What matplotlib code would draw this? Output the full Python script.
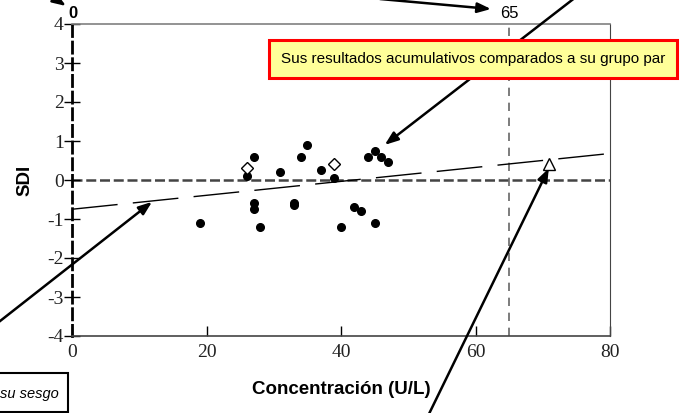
import matplotlib.pyplot as plt
from matplotlib.patches import Rectangle

plt.rcParams['axes.unicode_minus'] = False

# peer group results (filled circles)
conc = [19, 26, 27, 27, 27, 28, 31, 33, 33, 34, 35, 37, 39, 40, 42, 43, 44, 45, 45, 46, 47]
sdi = [-1.1, 0.1, 0.6, -0.6, -0.75, -1.2, 0.2, -0.6, -0.65, 0.6, 0.9, 0.25, 0.05, -1.2,
       -0.7, -0.8, 0.6, 0.75, -1.1, 0.6, 0.45]
# open diamonds
diam_x = [26, 39]
diam_y = [0.3, 0.4]
# open triangle
tri_x = [71]
tri_y = [0.4]
# regression line end points
reg_x = [0, 80]
reg_y = [-0.75, 0.68]
decision = 65

W, H = 686, 413
fig = plt.figure(figsize=(W / 100, H / 100), dpi=100)
ax = fig.add_axes([72 / W, 1 - 336 / H, 538 / W, 312 / H])

serif = 'Liberation Serif'
sans = 'Liberation Sans'

ax.plot(reg_x, reg_y, color='black', lw=1, dashes=(33, 11), zorder=2)
ax.axhline(0, color='#444444', lw=1.8, dashes=(4, 1.5), zorder=1)
ax.axvline(decision, color='#666666', lw=1.2, dashes=(5, 4), zorder=1)
ax.plot(conc, sdi, 'o', color='black', ms=5.5, zorder=3)
ax.plot(diam_x, diam_y, 'D', mfc='white', mec='black', ms=6, mew=1, zorder=3)
ax.plot(tri_x, tri_y, '^', mfc='white', mec='black', ms=9, mew=1, zorder=3)

ax.set_xlim(0, 80)
ax.set_ylim(-4, 4)
ax.set_xticks([0, 20, 40, 60, 80])
ax.set_yticks(range(-4, 5))
ax.tick_params(axis='x', direction='in', length=7, width=1, pad=6,
               labelsize=14, labelcolor='#222222')
ax.tick_params(axis='y', direction='inout', length=12, width=1, pad=0,
               labelsize=14, labelcolor='#222222')
for lab in ax.get_xticklabels() + ax.get_yticklabels():
    lab.set_fontfamily(serif)

ax.spines['left'].set_linestyle((0, (4, 2)))
ax.spines['left'].set_linewidth(2)
ax.spines['left'].set_color('black')
ax.spines['top'].set_color('#808080')
ax.spines['top'].set_linewidth(1.2)
ax.spines['right'].set_color('#444444')
ax.spines['bottom'].set_color('#444444')
ax.spines['bottom'].set_linewidth(1.2)

ax.set_xlabel('Concentración (U/L)', fontfamily=sans, fontweight='bold',
              fontsize=13.5, labelpad=14)
ax.set_ylabel('SDI', fontfamily=sans, fontweight='bold', fontsize=13.5,
              labelpad=10)


def fp(x, y):
    return (x, H - y)


fig.text(73 / W, 1 - 14 / H, '0', ha='center', va='center', fontfamily=sans,
         fontweight='bold', fontsize=12)
fig.text(509 / W, 1 - 14 / H, '65', ha='center', va='center', fontfamily=sans,
         fontsize=12)

fig.text(473 / W, 1 - 59 / H, 'Sus resultados acumulativos comparados a su grupo par',
         ha='center', va='center', fontfamily=sans, fontsize=11,
         bbox=dict(boxstyle='square,pad=0.8', fc='#ffff99', ec='red', lw=2.2))

# lower-left note box (cut by figure edge)
fig.patches.append(Rectangle(fp(-200, 412), 268, 39, transform=None,
                             fc='white', ec='black', lw=1.5, figure=fig))
fig.text(59 / W, 1 - 394 / H, 'su sesgo', ha='right', va='center',
         fontfamily=sans, style='italic', fontsize=10.5)

arrow = dict(arrowstyle='-|>,head_length=0.8,head_width=0.3', color='black',
             lw=1.8, shrinkA=0, shrinkB=0)
ax.annotate('', xy=fp(66, 6), xycoords='figure pixels', xytext=fp(45, -8),
            textcoords='figure pixels', arrowprops=arrow, annotation_clip=False)
ax.annotate('', xy=fp(491, 9), xycoords='figure pixels', xytext=fp(380, -1),
            textcoords='figure pixels', arrowprops=arrow, annotation_clip=False)
ax.annotate('', xy=(46.5, 0.9), xytext=fp(585, -10), textcoords='figure pixels',
            arrowprops=arrow, annotation_clip=False)
ax.annotate('', xy=(11.9, -0.56), xytext=fp(-5, 325), textcoords='figure pixels',
            arrowprops=arrow, annotation_clip=False)
ax.annotate('', xy=(70.9, 0.3), xytext=fp(427, 418), textcoords='figure pixels',
            arrowprops=arrow, annotation_clip=False)

fig.savefig('out.png', dpi=100)
